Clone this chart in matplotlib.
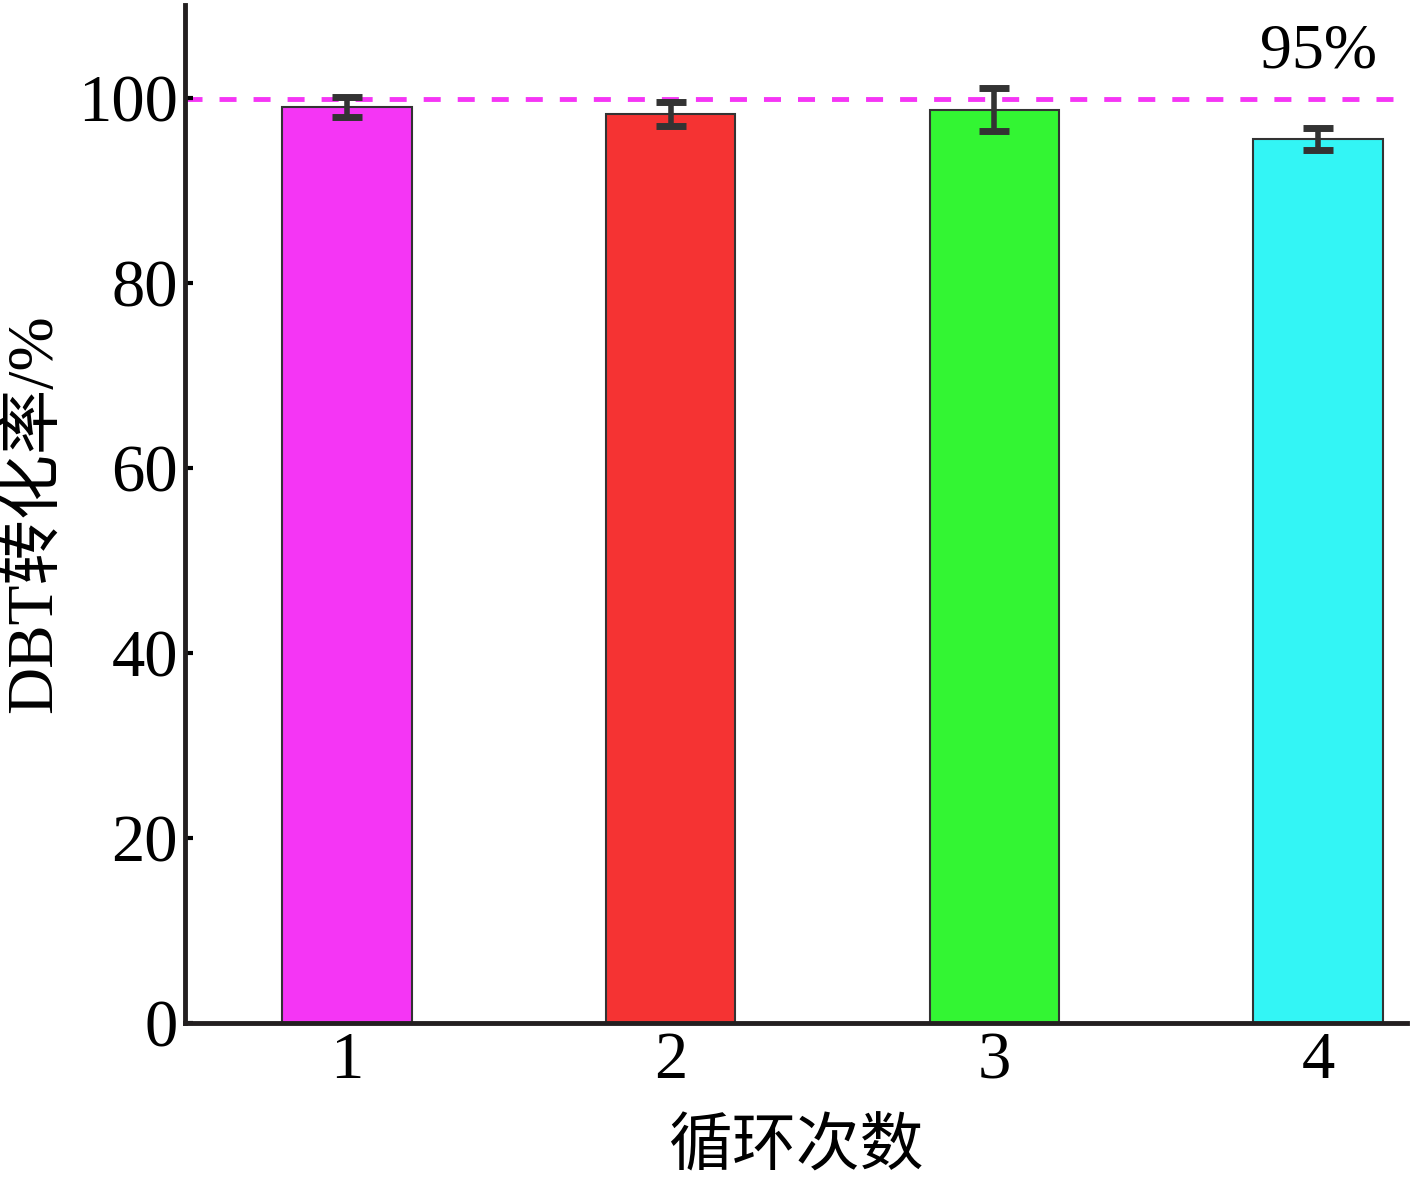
import matplotlib
matplotlib.use('Agg')
import matplotlib.pyplot as plt

plt.rcParams['font.family'] = ['Liberation Serif', 'Noto Sans CJK SC']

cycles = [1, 2, 3, 4]
conversion = [99.0, 98.2, 98.7, 95.5]
errors = [1.1, 1.3, 2.3, 1.2]
colors = ['#f535f5', '#f53333', '#33f533', '#33f5f5']
ref_level = 99.8
ref_label = '95%'

fig = plt.figure(figsize=(14.17, 11.81), dpi=100)
ax = fig.add_axes([0.1306, 0.1338, 0.8624, 0.862])

ax.bar(cycles, conversion, width=0.4, color=colors, edgecolor='#333333', linewidth=1.5, zorder=2)
ax.errorbar(cycles, conversion, yerr=errors, fmt='none', ecolor='#333333',
            elinewidth=4, capsize=11, capthick=5, zorder=3)
ax.axhline(ref_level, color='#f535f5', linestyle=(0, (3.5, 3.5)), linewidth=3.5, zorder=1)
ax.text(4, 104.9, ref_label, ha='center', va='center', fontsize=46)

ax.set_xlim(0.5, 4.275)
ax.set_ylim(0, 110)
ax.set_xticks(cycles)
ax.set_yticks([0, 20, 40, 60, 80, 100])
ax.tick_params(axis='both', labelsize=48, direction='in', width=3, length=6)
ax.tick_params(axis='x', length=0, pad=6)
ax.tick_params(axis='y', pad=5)

for s in ['top', 'right']:
    ax.spines[s].set_visible(False)
for s in ['left', 'bottom']:
    ax.spines[s].set_linewidth(3.5)
    ax.spines[s].set_color('#231f20')

ax.set_xlabel('循环次数', fontsize=46, labelpad=20)
ax.set_ylabel('DBT转化率/%', fontsize=47, labelpad=10)

fig.savefig('out.png', dpi=100)
